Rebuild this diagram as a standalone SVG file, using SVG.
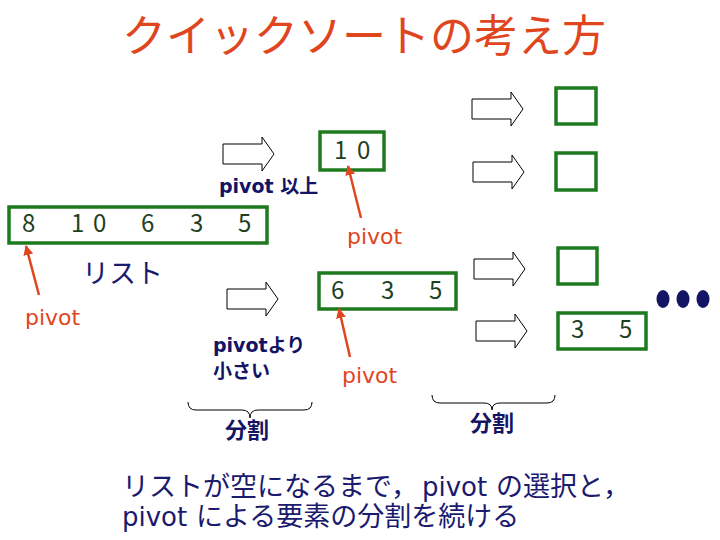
<svg xmlns="http://www.w3.org/2000/svg" xmlns:xlink="http://www.w3.org/1999/xlink" width="720" height="540" viewBox="0 0 720 540">
<style>
.title{font-family:"Noto Sans CJK JP","Noto Sans",sans-serif;font-size:44px;fill:#E0461E}
.box{fill:none;stroke:#1E7A1E;stroke-width:3.5}
.num{font-family:"Noto Sans CJK JP","DejaVu Sans",sans-serif;font-size:24px;fill:#1F3F1F}
.piv{font-family:"DejaVu Sans",sans-serif;font-size:22px;fill:#E0461E}
.ptr{stroke:#E0461E;stroke-width:2.5;fill:none}
.navy{font-family:"Noto Sans CJK JP",sans-serif;fill:#1A1A6E}
.lat{font-family:"DejaVu Sans",sans-serif;fill:#1A1A6E}
.bold{font-family:"DejaVu Sans","Noto Sans CJK JP",sans-serif;font-weight:bold;fill:#141464}
.barrow{fill:#fff;stroke:#000;stroke-width:1}
.brace{fill:none;stroke:#000;stroke-width:1}
</style>
<defs>
<polygon id="ba" class="barrow" points="0,7 39,7 39,0 51,17 39,34 39,27 0,27"/>
<marker id="ah" viewBox="0 0 10 10" refX="9" refY="5" markerWidth="4" markerHeight="4" orient="auto">
<path d="M0,0 L10,5 L0,10 z" fill="#E0461E"/>
</marker>
</defs>
<text class="title" x="122" y="52">クイックソートの考え方</text>

<g id="list">
<rect class="box" x="9" y="207" width="258" height="36"/>
<text class="num" x="22 71 93 141 190 238" y="232">810635</text>
</g>
<g id="list-label"><text class="navy" x="82" y="283" font-size="27">リスト</text></g>
<g id="box10">
<rect class="box" x="320" y="132" width="64" height="38"/>
<text class="num" x="334 357" y="159">10</text>
</g>
<g id="box635">
<rect class="box" x="319" y="273" width="137" height="36"/>
<text class="num" x="331 381 429" y="299">635</text>
</g>
<g id="e1"><rect class="box" x="556" y="88" width="40" height="36"/></g>
<g id="e2"><rect class="box" x="556" y="153" width="40" height="37"/></g>
<g id="e3"><rect class="box" x="558" y="248" width="39" height="36"/></g>
<g id="box35">
<rect class="box" x="558" y="313" width="88" height="36"/>
<text class="num" x="571 619" y="338">35</text>
</g>
<g id="dots" fill="#141464">
<ellipse cx="663" cy="299" rx="6.5" ry="9"/>
<ellipse cx="683" cy="299" rx="6.5" ry="9"/>
<ellipse cx="703" cy="299" rx="6.5" ry="9"/>
</g>

<g id="labels">
<text class="bold" x="219" y="193" font-size="19">pivot 以上</text>
<text class="bold" x="213" y="352" font-size="19">pivotより</text>
<text class="bold" x="213" y="378" font-size="19">小さい</text>
<text class="bold" x="225" y="438" font-size="22">分割</text>
<text class="bold" x="470" y="431" font-size="22">分割</text>
<text class="piv" x="25" y="325">pivot</text>
<text class="piv" x="347" y="244">pivot</text>
<text class="piv" x="342" y="383">pivot</text>
</g>

<g id="connectors">
<use xlink:href="#ba" x="223" y="137"/>
<use xlink:href="#ba" x="227" y="282"/>
<use xlink:href="#ba" x="472" y="92"/>
<use xlink:href="#ba" x="473" y="155"/>
<use xlink:href="#ba" x="474" y="252"/>
<use xlink:href="#ba" x="476" y="314"/>
<line class="ptr" x1="39" y1="295" x2="26" y2="246" marker-end="url(#ah)"/>
<line class="ptr" x1="361" y1="218" x2="348" y2="166" marker-end="url(#ah)"/>
<line class="ptr" x1="350" y1="357" x2="339" y2="309" marker-end="url(#ah)"/>
<path class="brace" d="M188,402 Q188,410 196,410 L242,410 Q250,410 250,418 Q250,410 258,410 L304,410 Q312,410 312,402"/>
<path class="brace" d="M432,395 Q432,403 440,403 L484,403 Q492,403 492,410 Q492,403 500,403 L547,403 Q555,403 555,395"/>
</g>

<g id="footer">
<text class="navy" x="122" y="496" font-size="27">リストが空になるまで，</text>
<text class="lat" x="422" y="496" font-size="26">pivot</text>
<text class="navy" x="496" y="496" font-size="27">の選択と，</text>
<text class="lat" x="122" y="526" font-size="26">pivot</text>
<text class="navy" x="196" y="526" font-size="27">による要素の分割を続ける</text>
</g>
</svg>
